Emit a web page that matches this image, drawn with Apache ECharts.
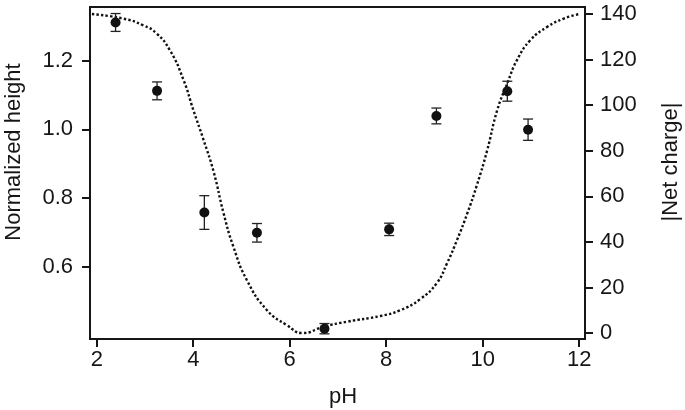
<!DOCTYPE html>
<html>
<head>
<meta charset="utf-8">
<script src="https://cdn.jsdelivr.net/npm/echarts@6/dist/echarts.min.js"></script>
<style>
html,body{margin:0;padding:0;background:#fff;}
#chart{width:685px;height:410px;}
</style>
</head>
<body>
<div id="chart"></div>
<script>
// Measured points: pH, normalized height, error
const phValues = [2.39, 3.25, 4.23, 5.32, 6.72, 8.06, 9.04, 10.51, 10.94];
const heightValues = [1.311, 1.112, 0.758, 0.699, 0.420, 0.709, 1.039, 1.111, 0.999];
const heightErrors = [0.026, 0.026, 0.049, 0.027, 0.015, 0.018, 0.023, 0.029, 0.031];

// |Net charge| curve
const chargePH = [1.9, 2.55, 2.97, 3.24, 3.52, 3.80, 4.00, 4.21, 4.42, 4.63, 4.83, 5.11, 5.53, 5.94, 6.27, 6.70, 7.19, 7.88, 8.29, 8.71, 9.05, 9.26, 9.47, 9.68, 9.88, 10.09, 10.30, 10.51, 10.71, 10.99, 11.34, 11.68, 12.0];
const chargeValues = [140, 138, 135, 131.5, 124, 111, 98, 85, 71, 52.5, 38, 23.3, 10, 3.5, 0, 2.8, 5, 7.5, 10, 15, 22, 30.6, 41, 52.5, 65, 80, 97.8, 109.6, 119.8, 128.6, 134.4, 138, 140];

// Tick labels
const xTicks = [2, 4, 6, 8, 10, 12];
const leftTicks = [0.6, 0.8, 1.0, 1.2];
const rightTicks = [0, 20, 40, 60, 80, 100, 120, 140];

const FONT = '"Liberation Sans", Arial, Helvetica, sans-serif';
const INK = '#161616';

const chart = echarts.init(document.getElementById('chart'), null, {renderer: 'canvas'});

const pointData = phValues.map((x, i) => [x, heightValues[i]]);
const errData = phValues.map((x, i) => [x, heightValues[i], heightErrors[i]]);
const lineData = chargePH.map((x, i) => [x, chargeValues[i]]);

const axisLineStyle = {show: true, onZero: false, lineStyle: {color: INK, width: 2}};

chart.setOption({
  animation: false,
  backgroundColor: '#fff',
  grid: {left: 90, top: 7, right: 100, bottom: 71, show: true, borderColor: INK, borderWidth: 2, backgroundColor: 'transparent'},
  xAxis: {
    type: 'value', min: 1.86, max: 12.12,
    axisLine: axisLineStyle,
    axisTick: {show: true, length: 8, customValues: xTicks, lineStyle: {color: INK, width: 2}},
    axisLabel: {customValues: xTicks, fontSize: 22, color: INK, fontFamily: FONT, margin: 10},
    splitLine: {show: false}
  },
  yAxis: [
    {
      type: 'value', position: 'left', min: 0.39, max: 1.356,
      axisLine: axisLineStyle,
      axisTick: {show: true, length: 8, customValues: leftTicks, lineStyle: {color: INK, width: 2}},
      axisLabel: {customValues: leftTicks, fontSize: 22, color: INK, fontFamily: FONT, margin: 17,
        formatter: v => Number(v).toFixed(1)},
      splitLine: {show: false}
    },
    {
      type: 'value', position: 'right', min: -2.6, max: 143.1,
      axisLine: axisLineStyle,
      axisTick: {show: true, length: 8, customValues: rightTicks, lineStyle: {color: INK, width: 2}},
      axisLabel: {customValues: rightTicks, fontSize: 22, color: INK, fontFamily: FONT, margin: 15},
      splitLine: {show: false}
    }
  ],
  graphic: [
    {type: 'text', x: 14, y: 152, rotation: Math.PI / 2,
      style: {text: 'Normalized height', fill: INK, font: '22px ' + FONT, align: 'center', verticalAlign: 'middle'}},
    {type: 'text', x: 671, y: 162, rotation: Math.PI / 2,
      style: {text: '|Net charge|', fill: INK, font: '22px ' + FONT, align: 'center', verticalAlign: 'middle'}},
    {type: 'text', x: 343, y: 397,
      style: {text: 'pH', fill: INK, font: '22px ' + FONT, align: 'center', verticalAlign: 'middle'}}
  ],
  series: [
    {
      type: 'line', yAxisIndex: 1, data: lineData, smooth: 0.5, symbol: 'none',
      lineStyle: {color: '#111', width: 2.4, type: [2.4, 2.2]}, z: 2
    },
    {
      type: 'custom', yAxisIndex: 0, data: errData, z: 3,
      renderItem: function (params, api) {
        const x = api.value(0), y = api.value(1), e = api.value(2);
        const top = api.coord([x, y + e]);
        const bot = api.coord([x, y - e]);
        const hw = 5;
        const st = {stroke: '#222', lineWidth: 1.3};
        return {type: 'group', children: [
          {type: 'line', shape: {x1: top[0], y1: top[1], x2: bot[0], y2: bot[1]}, style: st},
          {type: 'line', shape: {x1: top[0] - hw, y1: top[1], x2: top[0] + hw, y2: top[1]}, style: st},
          {type: 'line', shape: {x1: bot[0] - hw, y1: bot[1], x2: bot[0] + hw, y2: bot[1]}, style: st}
        ]};
      }
    },
    {
      type: 'scatter', yAxisIndex: 0, data: pointData, symbol: 'circle', symbolSize: 10,
      itemStyle: {color: '#111', opacity: 1}, z: 4
    }
  ]
});
</script>
</body>
</html>
